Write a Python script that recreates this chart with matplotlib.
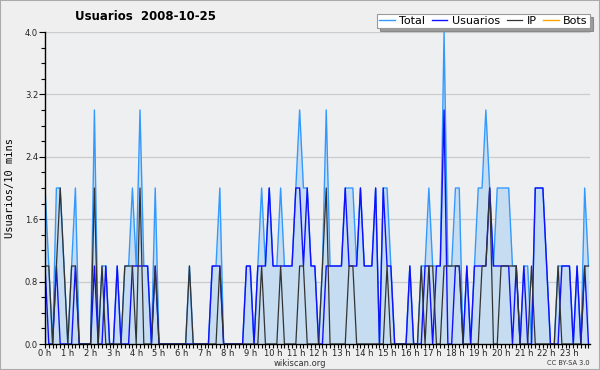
import matplotlib
matplotlib.use("Agg")
import matplotlib.pyplot as plt
from matplotlib.patches import Rectangle
from matplotlib.ticker import MultipleLocator, FixedLocator
import numpy as np

title = "Usuarios  2008-10-25"
ylabel = "Usuarios/10 mins"
hour_labels = [f"{h} h" for h in range(24)]

usuarios = [1,0,0,1,0,0, 0,0,1,0,0,0, 0,1,0,0,1,0, 0,1,0,0,0,1,
            1,1,1,1,0,1, 0,0,0,0,0,0, 0,0,0,0,0,0, 0,0,1,1,1,0,
            0,0,0,0,0,1, 1,0,1,1,1,2, 1,1,1,1,1,1, 2,2,1,2,1,1,
            0,0,1,1,1,1, 1,2,1,1,1,2, 1,1,1,2,0,2, 1,1,0,0,0,0,
            1,0,0,0,1,1, 0,1,1,3,0,0, 1,1,0,1,0,1, 1,1,1,2,1,1,
            1,1,1,0,1,0, 1,0,0,2,2,2, 1,0,0,0,1,1, 1,0,1,0,1,0]
ip =       [1,1,0,1,2,1, 0,1,1,0,0,0, 0,2,0,1,0,0, 0,0,0,1,1,1,
            0,2,0,0,0,1, 0,0,0,0,0,0, 0,0,1,0,0,0, 0,0,0,0,1,0,
            0,0,0,0,0,0, 0,0,0,1,0,0, 0,0,1,0,0,0, 0,1,1,0,0,0,
            0,1,2,0,0,0, 0,0,1,1,0,0, 0,0,0,0,0,0, 1,0,0,0,0,0,
            0,0,0,1,0,1, 1,0,0,1,1,1, 1,1,0,0,0,0, 0,1,1,2,0,0,
            1,1,1,1,1,0, 0,0,1,0,0,0, 0,0,0,1,0,0, 0,0,0,0,1,1]
total =    [2,1,0,2,2,1, 0,1,2,0,0,0, 0,3,0,1,1,0, 0,1,0,1,1,2,
            1,3,1,1,0,2, 0,0,0,0,0,0, 0,0,1,0,0,0, 0,0,1,1,2,0,
            0,0,0,0,0,1, 1,0,1,2,1,2, 1,1,2,1,1,1, 2,3,2,2,1,1,
            0,1,3,1,1,1, 1,2,2,2,1,2, 1,1,1,2,0,2, 2,1,0,0,0,0,
            1,0,0,1,1,2, 1,1,1,4,1,1, 2,2,0,1,0,1, 2,2,3,2,1,2,
            2,2,2,1,1,0, 1,1,0,2,2,2, 1,0,0,1,1,1, 1,0,1,0,2,1]
bots = [0] * 144

x = np.arange(len(total))

fig = plt.figure(figsize=(6.0, 3.7), dpi=100)
fig.patch.set_facecolor("#efefef")
ax = fig.add_axes([45/600, 1-344/370, (590-45)/600, (344-32)/370])
ax.set_facecolor("#eeeff1")

for v in [0.8, 1.6, 2.4, 3.2, 4.0]:
    ax.axhline(v, color="#cccccc", lw=0.9, zorder=0.5)

ax.fill_between(x, total, 0, color="#c6dcf0", zorder=1, lw=0)
ax.plot(x, bots, color="#ffa500", lw=1.0, zorder=0.8, label="Bots")
ax.plot(x, total, color="#3399ff", lw=1.0, zorder=2, label="Total")
ax.plot(x, usuarios, color="#1010ff", lw=1.0, zorder=3, label="Usuarios")
ax.plot(x, ip, color="#333333", lw=0.9, zorder=4, label="IP")

ax.set_xlim(0, 143.4)
ax.set_ylim(0, 4.0)
for s in ["top", "right"]:
    ax.spines[s].set_visible(False)
for s in ["left", "bottom"]:
    ax.spines[s].set_color("black")
    ax.spines[s].set_linewidth(1.0)
    ax.spines[s].set_zorder(5)

ax.yaxis.set_minor_locator(MultipleLocator(0.2))
ax.set_yticks([0, 0.8, 1.6, 2.4, 3.2, 4.0])
ax.set_yticklabels(["0.0", "0.8", "1.6", "2.4", "3.2", "4.0"], fontsize=6, color="#222222")
ax.tick_params(axis="y", which="major", length=4, width=0.8, pad=1)
ax.tick_params(axis="y", which="minor", length=3, width=0.8)

ax.xaxis.set_major_locator(FixedLocator(np.arange(0, 144, 6)))
ax.xaxis.set_minor_locator(FixedLocator(np.arange(0, 144, 1)))
ax.set_xticklabels(hour_labels, fontsize=6, color="#222222")
ax.tick_params(axis="x", which="major", length=3, width=0.8, pad=0.5)
ax.tick_params(axis="x", which="minor", length=3, width=0.8)

fig.text(75/600, 1-17/370, title, fontsize=8.5, fontweight="bold", ha="left", va="center")
fig.text(10/600, 1-188/370, ylabel, fontsize=7.5, rotation=90, ha="center", va="center",
         family="DejaVu Sans Mono")
fig.text(300/600, 1-363/370, "wikiscan.org", fontsize=6, ha="center", va="center", color="#333333")
fig.text(590/600, 1-363/370, "CC BY-SA 3.0", fontsize=4.8, ha="right", va="center", color="#333333")

handles, labels = ax.get_legend_handles_labels()
order = ["Total", "Usuarios", "IP", "Bots"]
hd = {l: h for h, l in zip(handles, labels)}
leg = fig.legend([hd[o] for o in order], order, loc="upper right",
                 bbox_to_anchor=(590/600, 1-14/370), ncol=4, fontsize=8,
                 frameon=True, fancybox=False, shadow=True, borderpad=0.2,
                 handlelength=1.4, handletextpad=0.4, columnspacing=0.6,
                 borderaxespad=0)
leg.get_frame().set_edgecolor("#999999")
leg.get_frame().set_linewidth(0.8)

fig.patches.append(Rectangle((0, 0), 1, 1, transform=fig.transFigure, fill=False,
                             edgecolor="#aaaaaa", lw=1.5))

fig.savefig("out.png", dpi=100, facecolor=fig.get_facecolor())
